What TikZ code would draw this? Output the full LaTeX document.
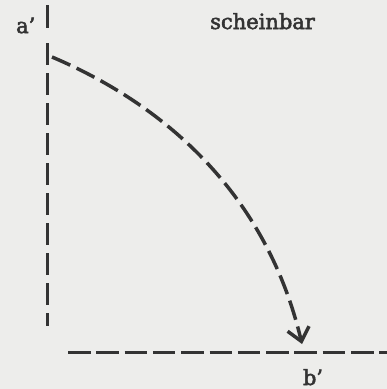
\documentclass[tikz,border=0pt]{standalone}
\usepackage{fontspec}
\newfontfamily\lblfont{DejaVu Serif}[FakeBold=2.5]
\usetikzlibrary{arrows.meta}
\definecolor{paper}{HTML}{EDEDEB}
\definecolor{ink}{HTML}{333333}
\begin{document}
\begin{tikzpicture}[x=1pt,y=-1pt,
  lbl/.style={inner sep=0pt,anchor=base,text=ink,font=\lblfont\fontsize{21}{25}\selectfont},
  vline/.style={draw=ink,line width=3pt},
  hline/.style={draw=ink,line width=3pt,dash pattern=on 22.5pt off 5.8pt},
  curveline/.style={draw=ink,line width=3.5pt,dash pattern=on 20pt off 7pt},
  tipstyle/.style={-{Straight Barb[length=13pt,width=22pt,line width=3.5pt]}}
]
\fill[paper] (0,0) rectangle (387,389);
\useasboundingbox (0,0) rectangle (387,389);

\node[lbl,anchor=base west] (a) at (16,33) {a’};
\node[lbl,anchor=base west] (s) at (210,29) {scheinbar};
\node[lbl] (b) at (313,385) {b’};

\coordinate (vt) at (47,5);
\coordinate (vt2) at (47,28);
\coordinate (vm) at (47,43);
\coordinate (vb) at (47,326);
\draw[vline] (vt) -- (vt2);
\draw[vline,dash pattern=on 22pt off 8pt] (vm) -- (vb);

\coordinate (hl) at (68,352);
\coordinate (hr) at (392,352);
\draw[hline] (hl) -- (hr);

\coordinate (c0) at (52,57);
\coordinate (c3) at (302,344);
\draw[curveline,tipstyle] (c0) .. controls (172,108) and (267.5,199.5) .. (c3);
\end{tikzpicture}
\end{document}
